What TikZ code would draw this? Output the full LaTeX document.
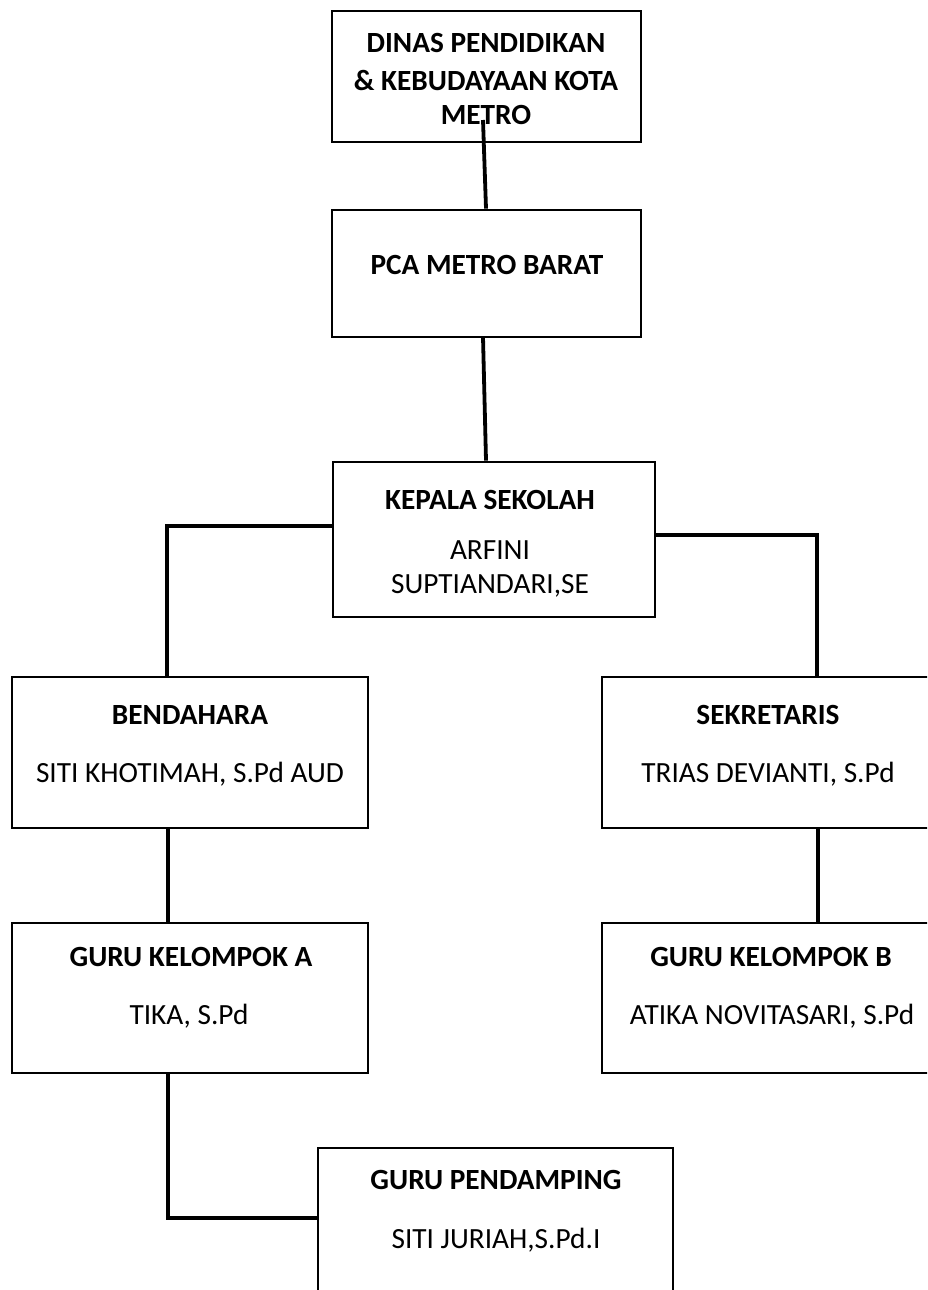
\documentclass[tikz,border=0pt]{standalone}
\usepackage{fontspec}
\setmainfont{Carlito}
\begin{document}
\begin{tikzpicture}[x=1pt,y=-1pt,
  box/.style={draw=black,line width=2.8pt,inner sep=0pt},
  conn/.style={draw=black,line width=3.8pt},
  ttl/.style={font=\fontsize{29.3}{36}\selectfont\bfseries,inner sep=0pt,align=center},
  nm/.style={font=\fontsize{29.3}{36}\selectfont,inner sep=0pt,align=center}]
\clip (0,0) rectangle (927,1290);
\fill[white] (0,0) rectangle (927,1290);
% boxes
\node[box,minimum width=309pt,minimum height=131pt] (b1) at (486.5,76.5) {};
\node[box,minimum width=309pt,minimum height=127pt] (b2) at (486.5,273.5) {};
\node[box,minimum width=322pt,minimum height=155pt] (b3) at (494,539.5) {};
\node[box,minimum width=356pt,minimum height=151pt] (bend) at (190,752.5) {};
\node[box,minimum width=328pt,minimum height=151pt] (sek) at (766,752.5) {};
\node[box,minimum width=356pt,minimum height=150pt] (ga) at (190,998) {};
\node[box,minimum width=328pt,minimum height=150pt] (gb) at (766,998) {};
\node[box,minimum width=355pt,minimum height=160pt] (gp) at (495.5,1228) {};
% texts
\node[ttl] (t1a) at (486,43) {DINAS PENDIDIKAN};
\node[ttl] (t1b) at (486,80) {\& KEBUDAYAAN KOTA};
\node[ttl] (t1c) at (486,115) {METRO};
\node[ttl] (t2) at (487,265) {PCA METRO BARAT};
\node[ttl] (t3a) at (490,500) {KEPALA SEKOLAH};
\node[nm] (t3b) at (490,550) {ARFINI};
\node[nm] (t3c) at (490,586) {SUPTIANDARI,SE};
\node[ttl] (t4a) at (190,715) {BENDAHARA};
\node[nm] (t4b) at (190,774) {SITI KHOTIMAH, S.Pd AUD};
\node[ttl] (t5a) at (768,715) {SEKRETARIS};
\node[nm] (t5b) at (768,774) {TRIAS DEVIANTI, S.Pd};
\node[ttl] (t6a) at (191,957) {GURU KELOMPOK A};
\node[nm] (t6b) at (189,1016) {TIKA, S.Pd};
\node[ttl] (t7a) at (771,957) {GURU KELOMPOK B};
\node[nm] (t7b) at (772,1016) {ATIKA NOVITASARI, S.Pd};
\node[ttl] (t8a) at (496,1180) {GURU PENDAMPING};
\node[nm] (t8b) at (496,1240) {SITI JURIAH,S.Pd.I};
% connectors
\coordinate (c1) at (483,120);
\coordinate (c2) at (483,337);
\draw[conn] (c1) -- (b2.north -| 486,0);
\draw[conn] (c2) -- (b3.north -| 486,0);
\draw[conn] (b3.west |- 0,526) -| (bend.north -| 167,0);
\draw[conn] (b3.east |- 0,535) -| (sek.north -| 817,0);
\draw[conn] (bend.south -| 168,0) -- (ga.north -| 168,0);
\draw[conn] (sek.south -| 818,0) -- (gb.north -| 818,0);
\draw[conn] (ga.south -| 168,0) |- (gp.west |- 0,1218);
\end{tikzpicture}
\end{document}
